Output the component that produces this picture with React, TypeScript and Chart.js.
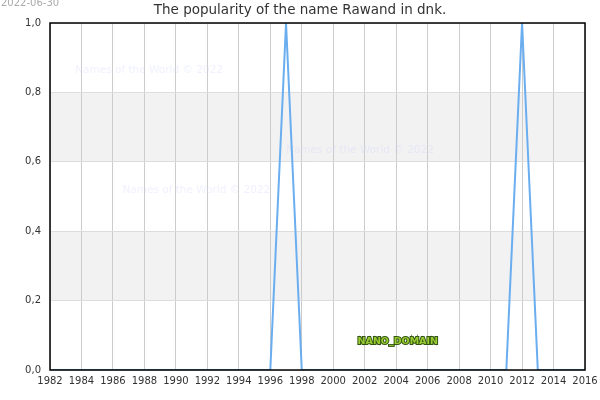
import { useEffect, useRef } from "react";
import { Chart, registerables, Plugin } from "chart.js";

Chart.register(...registerables);

// years shown on the chart and the popularity per year
const years = [
  1982, 1983, 1984, 1985, 1986, 1987, 1988, 1989, 1990, 1991, 1992, 1993,
  1994, 1995, 1996, 1997, 1998, 1999, 2000, 2001, 2002, 2003, 2004, 2005,
  2006, 2007, 2008, 2009, 2010, 2011, 2012, 2013, 2014, 2015, 2016,
];
const popularity = [
  0, 0, 0, 0, 0, 0, 0, 0, 0, 0, 0, 0,
  0, 0, 0, 1, 0, 0, 0, 0, 0, 0, 0, 0,
  0, 0, 0, 0, 0, 0, 1, 0, 0, 0, 0,
];
// shaded horizontal bands [from, to]
const bands = [
  [0.2, 0.4],
  [0.6, 0.8],
];
const watermarks = [
  { x: 1988.3, y: 0.865 },
  { x: 2001.7, y: 0.633 },
  { x: 1991.3, y: 0.519 },
];

const FONT = "'DejaVu Sans', sans-serif";

const decor: Plugin<"line"> = {
  id: "decor",
  beforeDraw(chart) {
    const { ctx, chartArea, scales } = chart;
    const y = scales.y;
    ctx.save();
    ctx.fillStyle = "#f2f2f2";
    bands.forEach(([a, b]) => {
      const top = y.getPixelForValue(b);
      const bot = y.getPixelForValue(a);
      ctx.fillRect(chartArea.left, top, chartArea.right - chartArea.left, bot - top);
    });
    ctx.restore();
  },
  beforeDatasetsDraw(chart) {
    const { ctx, scales } = chart;
    ctx.save();
    ctx.font = `normal 10.5px ${FONT}`;
    ctx.fillStyle = "rgba(205,205,255,0.3)";
    ctx.textAlign = "center";
    ctx.textBaseline = "middle";
    watermarks.forEach((w) => {
      ctx.fillText("Names of the World © 2022", scales.x.getPixelForValue(w.x), scales.y.getPixelForValue(w.y));
    });
    ctx.restore();
  },
  afterDraw(chart) {
    const { ctx, chartArea, scales } = chart;
    ctx.save();
    ctx.strokeStyle = "#000";
    ctx.lineWidth = 1.5;
    ctx.strokeRect(chartArea.left, chartArea.top, chartArea.right - chartArea.left, chartArea.bottom - chartArea.top);

    ctx.textAlign = "center";
    ctx.textBaseline = "middle";
    ctx.font = `13.5px ${FONT}`;
    ctx.fillStyle = "#333";
    ctx.fillText("The popularity of the name Rawand in dnk.", 300, 10);

    ctx.textAlign = "left";
    ctx.font = `10px ${FONT}`;
    ctx.fillStyle = "#aaa";
    ctx.fillText("2022-06-30", 1, 3);

    ctx.textAlign = "center";
    ctx.font = `bold 9.5px ${FONT}`;
    const nx = scales.x.getPixelForValue(2004.1);
    const ny = scales.y.getPixelForValue(0.081);
    ctx.lineWidth = 2;
    ctx.strokeStyle = "#335511";
    ctx.strokeText("NANO_DOMAIN", nx, ny);
    ctx.fillStyle = "#99cc33";
    ctx.fillText("NANO_DOMAIN", nx, ny);
    ctx.restore();
  },
};

export default function App() {
  const canvasRef = useRef<HTMLCanvasElement>(null);

  useEffect(() => {
    document.body.style.margin = "0";
    if (!canvasRef.current) return;
    const chart = new Chart(canvasRef.current, {
      type: "line",
      data: {
        datasets: [{
          data: years.map((yr, i) => ({ x: yr, y: popularity[i] })),
          borderColor: "#6aaef0",
          borderWidth: 2,
          pointRadius: 0,
          tension: 0,
          fill: false,
        }],
      },
      options: {
        animation: false,
        responsive: false,
        devicePixelRatio: 1,
        layout: { padding: { top: 23, right: 15, left: 0, bottom: 0 } },
        plugins: { legend: { display: false }, tooltip: { enabled: false }, title: { display: false } },
        scales: {
          x: {
            type: "linear",
            min: 1982,
            max: 2016,
            afterFit: (s: any) => { s.height = 30; s.paddingRight = 0; s.paddingLeft = 0; },
            ticks: { stepSize: 2, color: "#333", font: { family: FONT, size: 10 }, padding: 5, callback: (v) => String(v) },
            grid: { color: "#cccccc", drawTicks: false },
            border: { display: false },
          },
          y: {
            min: 0,
            max: 1,
            afterFit: (s) => { s.width = 50; },
            ticks: {
              stepSize: 0.2,
              color: "#333",
              font: { family: FONT, size: 10 },
              padding: 9,
              callback: (v) => Number(v).toFixed(1).replace(".", ","),
            },
            grid: { color: "#dddddd", drawTicks: false },
            border: { display: false },
          },
        },
      },
      plugins: [decor],
    });
    return () => { chart.destroy(); };
  }, []);

  return (
    <div style={{ position: "absolute", left: 0, top: 0, width: 600, height: 400 }}>
      <canvas ref={canvasRef} width={600} height={400} />
    </div>
  );
}
